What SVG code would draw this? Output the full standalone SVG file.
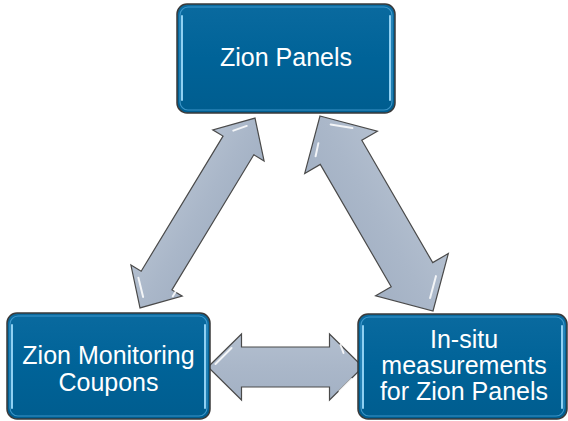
<svg xmlns="http://www.w3.org/2000/svg" width="568" height="421" viewBox="0 0 568 421">
<defs>
<linearGradient id="boxg" x1="0" y1="0" x2="0" y2="1">
<stop offset="0" stop-color="#0a6a9f"/>
<stop offset="0.5" stop-color="#006398"/>
<stop offset="1" stop-color="#005d8f"/>
</linearGradient>
<linearGradient id="arrg" x1="0" y1="0" x2="0" y2="1">
<stop offset="0" stop-color="#b3bfcf"/>
<stop offset="0.5" stop-color="#aab7c9"/>
<stop offset="1" stop-color="#a3b1c4"/>
</linearGradient>
</defs>
<style>
.box{fill:url(#boxg);stroke:#3a3a3a;stroke-width:1.5}
.inner{fill:none;stroke:#4aa3d6;stroke-width:1.2;opacity:0.8}
.hl{stroke:#8fd0f2;stroke-width:2;stroke-linecap:round}
.arrow{fill:url(#arrg);stroke:#4a4a4a;stroke-width:1.2;stroke-linejoin:miter}
.shine{stroke:#ffffff;stroke-width:2;stroke-linecap:round;opacity:0.85;fill:none}
.t{font-family:"Liberation Sans",Arial,sans-serif;font-size:25px;fill:#ffffff;text-anchor:middle}
</style>
<g id="connectors">
<g transform="translate(197.5,213) rotate(-58.8)">
<polygon class="arrow" points="-111,0 -79,-30 -79,-18 79,-18 79,-30 111,0 79,30 79,18 -79,18 -79,30"/>
<path class="shine" d="M-100,-3 L-86,-17 M89,-12 L100,-3 M-84,22 L-78,22"/>
</g>
<g transform="translate(376.5,213.5) rotate(59.9)">
<polygon class="arrow" points="-112.7,0 -70.7,-42 -70.7,-24 70.7,-24 70.7,-42 112.7,0 70.7,42 70.7,24 -70.7,24 -70.7,42"/>
<path class="shine" d="M-100,-5 L-86,-22 M84,-20 L100,-4 M-90,15 L-80,24"/>
</g>
<g transform="translate(285.5,367)">
<polygon class="arrow" points="-77.5,0 -44,-33 -44,-20 44,-20 44,-33 77.5,0 44,33 44,20 -44,20 -44,33"/>
<path class="shine" d="M-70,-3 L-54,-19 M55,-22 L58,-14 M54,24 L66,12"/>
</g>
</g>
<g id="node-zion-panels">
<rect class="box" x="177" y="4" width="218" height="109" rx="10"/>
<rect class="inner" x="180" y="7" width="212" height="103" rx="8"/>
<line class="hl" x1="182" y1="16" x2="182" y2="100"/>
<line class="hl" x1="390" y1="16" x2="390" y2="100"/>
<text class="t" x="286" y="66">Zion Panels</text>
</g>
<g id="node-coupons">
<rect class="box" x="7" y="313" width="203" height="106" rx="10"/>
<rect class="inner" x="10" y="316" width="197" height="100" rx="8"/>
<line class="hl" x1="12" y1="325" x2="12" y2="408"/>
<line class="hl" x1="205" y1="325" x2="205" y2="408"/>
<text class="t" x="108.5" y="364">Zion Monitoring</text>
<text class="t" x="108.5" y="391">Coupons</text>
</g>
<g id="node-insitu">
<rect class="box" x="358" y="314" width="209" height="105" rx="10"/>
<rect class="inner" x="361" y="317" width="203" height="99" rx="8"/>
<line class="hl" x1="363" y1="326" x2="363" y2="408"/>
<line class="hl" x1="562" y1="326" x2="562" y2="408"/>
<text class="t" x="464" y="348">In-situ</text>
<text class="t" x="464" y="374">measurements</text>
<text class="t" x="464" y="400">for Zion Panels</text>
</g>
</svg>
